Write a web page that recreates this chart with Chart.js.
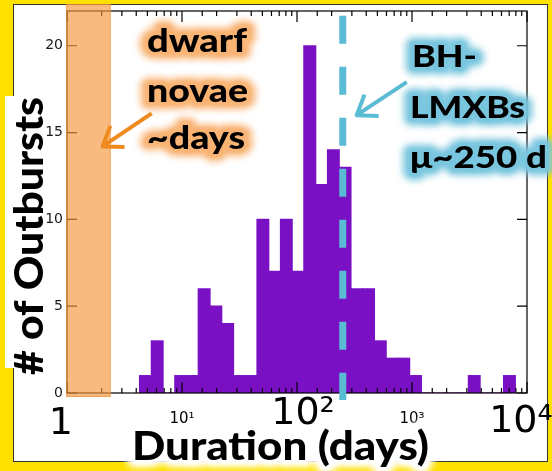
<!DOCTYPE html>
<html>
<head>
<meta charset="utf-8">
<script src="https://cdn.jsdelivr.net/npm/chart.js@4.4.1/dist/chart.umd.min.js"></script>
<style>
    html, body { margin: 0; padding: 0; background: #FFE100; }
    canvas { display: block; }
</style>
</head>
<body>
<canvas id="outburstChart" width="552" height="471"></canvas>
<script>

// --------------------------------------------------------------------------
//                     data
// --------------------------------------------------------------------------

// bin centres in days (log-spaced bins, ~0.1 dex wide)
const binCenters = [4.81, 6.09, 7.70, 9.74, 12.3, 15.6, 19.7, 24.9, 31.6, 39.9,
                    50.5, 63.9, 80.8, 102, 129, 164, 207, 262, 331, 419,
                    530, 671, 848, 1073, 1357, 1717, 2173, 2749, 3477, 4399,
                    5565, 7040];
const outburstCounts = [1, 3, 0, 1, 1, 6, 5, 4, 1, 1,
                        10, 7, 10, 7, 20, 12, 14, 13, 6, 6,
                        3, 2, 2, 1, 0, 0, 0, 0, 1, 0,
                        0, 1];

// spaces nudge the pasted-over big labels the way they sit in the figure
const xTickLabels = { 1: '1 ', 10: '10¹', 100: ' 10²', 1000: '10³', 10000: '10⁴ ' };
const yTickValues = [0, 5, 10, 15, 20];

const dwarfNovaeRange = [1, 2.4];      // days
const bhMeanDuration = 250;            // days
const dwarfArrow = [[5.45, 16.1], [2.04, 14.2]];   // tail, tip (days, count)
const bhArrow = [[899, 17.9], [330, 16.0]];

// per-label size of the x tick labels
const tickStyle = {
    1:     { size: 38, lineHeight: 1.1 },
    10:    { size: 15, lineHeight: 2.2 },
    100:   { size: 38, lineHeight: 0.58 },
    1000:  { size: 15, lineHeight: 2.15 },
    10000: { size: 38, lineHeight: 1.0 }
};

// --------------------------------------------------------------------------
//                     helpers
// --------------------------------------------------------------------------

function isDecade(v) {
    const l = Math.log10(v);
    return Math.abs(l - Math.round(l)) < 1e-9;
}

function glowText(ctx, text, x, y, opt) {
    ctx.save();
    ctx.translate(x, y);
    if (opt.rotate) ctx.rotate(opt.rotate);
    ctx.font = (opt.weight || '900') + ' ' + opt.size + 'px Lato';
    const sx = opt.width / ctx.measureText(text).width;
    ctx.scale(sx, 1);
    ctx.textAlign = 'left';
    ctx.textBaseline = 'alphabetic';
    ctx.lineJoin = 'round';
    if (opt.glow) {
        ctx.strokeStyle = opt.glow;
        ctx.filter = 'blur(3px)';
        ctx.lineWidth = opt.spread * 2;
        ctx.strokeText(text, 0, 0);
        ctx.filter = 'blur(1.5px)';
        ctx.lineWidth = opt.spread;
        ctx.strokeText(text, 0, 0);
        ctx.filter = 'none';
    }
    ctx.fillStyle = '#000';
    ctx.fillText(text, 0, 0);
    ctx.restore();
}

function drawArrow(ctx, xs, ys, arrow, color) {
    const x0 = xs.getPixelForValue(arrow[0][0]), y0 = ys.getPixelForValue(arrow[0][1]);
    const x1 = xs.getPixelForValue(arrow[1][0]), y1 = ys.getPixelForValue(arrow[1][1]);
    const ang = Math.atan2(y1 - y0, x1 - x0);
    const head = 22, spread = 0.62;
    ctx.save();
    ctx.strokeStyle = color;
    ctx.lineWidth = 4;
    ctx.lineJoin = 'round';
    ctx.beginPath();
    ctx.moveTo(x0, y0);
    ctx.lineTo(x1, y1);
    ctx.stroke();
    ctx.beginPath();
    ctx.moveTo(x1 - head * Math.cos(ang - spread), y1 - head * Math.sin(ang - spread));
    ctx.lineTo(x1, y1);
    ctx.lineTo(x1 - head * Math.cos(ang + spread), y1 - head * Math.sin(ang + spread));
    ctx.stroke();
    ctx.restore();
}

// --------------------------------------------------------------------------
//                     plugins
// --------------------------------------------------------------------------

const framePlugin = {
    id: 'frame',
    beforeDraw(chart) {
        const ctx = chart.ctx;
        ctx.save();
        ctx.fillStyle = '#FFE100';
        ctx.fillRect(0, 0, chart.width, chart.height);
        ctx.fillStyle = '#fff';
        ctx.fillRect(13, 4, 535, 458);
        ctx.strokeStyle = '#333';
        ctx.lineWidth = 1;
        ctx.strokeRect(13.5, 4.5, 534, 457);
        // white box behind the y title
        ctx.fillStyle = '#fff';
        ctx.fillRect(5, 96, 42, 272);
        ctx.restore();
    }
};

const overlayPlugin = {
    id: 'overlay',
    afterDatasetsDraw(chart) {
        const ctx = chart.ctx;
        const xs = chart.scales.x, ys = chart.scales.y;
        const { left, right, top, bottom } = chart.chartArea;

        ctx.save();

        // axis box + inward ticks
        ctx.strokeStyle = '#000';
        ctx.lineWidth = 1.2;
        ctx.strokeRect(left, top, right - left, bottom - top);
        ctx.beginPath();
        xs.ticks.forEach(t => {
            const px = xs.getPixelForValue(t.value);
            const len = isDecade(t.value) ? 11 : 5;
            ctx.moveTo(px, bottom); ctx.lineTo(px, bottom - len);
            ctx.moveTo(px, top); ctx.lineTo(px, top + len);
        });
        ys.ticks.forEach(t => {
            const py = ys.getPixelForValue(t.value);
            ctx.moveTo(left, py); ctx.lineTo(left + 10, py);
            ctx.moveTo(right, py); ctx.lineTo(right - 10, py);
        });
        ctx.stroke();

        // dwarf novae band
        const bx0 = xs.getPixelForValue(dwarfNovaeRange[0]);
        const bx1 = xs.getPixelForValue(dwarfNovaeRange[1]);
        const by0 = ys.getPixelForValue(22.4), by1 = ys.getPixelForValue(-0.23);
        ctx.fillStyle = 'rgba(246,150,62,0.66)';
        ctx.fillRect(bx0 - 1, by0, bx1 - bx0 + 1, by1 - by0);
        ctx.strokeStyle = 'rgba(238,140,50,0.55)';
        ctx.lineWidth = 1;
        ctx.strokeRect(bx0 - 0.5, by0 + 0.5, bx1 - bx0, by1 - by0 - 1);

        // mean BH-LMXB duration
        const dx = xs.getPixelForValue(bhMeanDuration);
        ctx.strokeStyle = '#5ABBD5';
        ctx.lineWidth = 7;
        ctx.setLineDash([28, 23]);
        ctx.beginPath();
        ctx.moveTo(dx, ys.getPixelForValue(21.72));
        ctx.lineTo(dx, ys.getPixelForValue(-0.4));
        ctx.stroke();
        ctx.setLineDash([]);
        ctx.restore();

        drawArrow(ctx, xs, ys, dwarfArrow, '#EE8A1E');
        drawArrow(ctx, xs, ys, bhArrow, '#5ABBD5');

        // annotations
        const orange = { size: 32, width: 100, glow: 'rgba(249,178,112,0.8)', spread: 8 };
        glowText(ctx, 'dwarf', 147, 52, orange);
        glowText(ctx, 'novae', 147, 102, Object.assign({}, orange, { width: 101 }));
        glowText(ctx, '~days', 147, 149, Object.assign({}, orange, { width: 98 }));

        const cyan = { size: 30, glow: 'rgba(120,198,222,0.85)', spread: 8 };
        glowText(ctx, 'BH-', 412, 67, Object.assign({}, cyan, { width: 65 }));
        glowText(ctx, 'LMXBs', 410, 118, Object.assign({}, cyan, { width: 115 }));
        glowText(ctx, 'μ~250 d', 410, 168, Object.assign({}, cyan, { width: 137 }));

        // axis titles
        glowText(ctx, 'Duration (days)', 132, 460,
            { size: 39, width: 297, glow: 'rgba(255,255,255,0.9)', spread: 8 });
        glowText(ctx, '# of Outbursts', 43, 375,
            { size: 40, width: 278, rotate: -Math.PI / 2 });
    }
};

// --------------------------------------------------------------------------
//                     chart
// --------------------------------------------------------------------------

const ctx = document.getElementById('outburstChart').getContext('2d');

window.outburstChart = new Chart(ctx, {
    type: 'bar',
    data: {
        datasets: [{
            label: 'Outbursts',
            data: binCenters.map((x, i) => ({ x: x, y: outburstCounts[i] })),
            backgroundColor: '#7A10C4',
            borderWidth: 0,
            inflateAmount: 0.6,
            barPercentage: 1,
            categoryPercentage: 1,
            barThickness: 'flex'
        }]
    },
    options: {
        responsive: false,
        animation: false,
        layout: { padding: { left: 0, top: 11, right: 25, bottom: 0 } },
        plugins: {
            legend: { display: false },
            tooltip: { enabled: false }
        },
        scales: {
            x: {
                type: 'logarithmic',
                min: 1,
                max: 10000,
                offset: false,
                grid: { display: false, drawTicks: false, offset: false },
                border: { display: false },
                ticks: {
                    autoSkip: false,
                    maxRotation: 0,
                    minRotation: 0,
                    padding: 10,
                    color: '#000',
                    font: (c) => {
                        const s = tickStyle[c.tick && c.tick.value] || { size: 15, lineHeight: 1.2 };
                        return { family: 'DejaVu Sans', size: s.size, lineHeight: s.lineHeight };
                    },
                    callback: (value) => xTickLabels[value] || ''
                },
                afterFit: (scale) => {
                    scale.height = 78;
                    scale.paddingLeft = 0;
                    scale.paddingRight = 0;
                }
            },
            y: {
                min: 0,
                max: 22,
                grid: { display: false, drawTicks: false },
                border: { display: false },
                ticks: {
                    padding: 4,
                    color: '#1a1a1a',
                    font: { family: 'DejaVu Sans', size: 14 }
                },
                afterBuildTicks: (scale) => {
                    scale.ticks = yTickValues.map(v => ({ value: v }));
                },
                afterFit: (scale) => {
                    scale.width = 67;
                    scale.paddingTop = 0;
                    scale.paddingBottom = 0;
                }
            }
        }
    },
    plugins: [framePlugin, overlayPlugin]
});

</script>
</body>
</html>
